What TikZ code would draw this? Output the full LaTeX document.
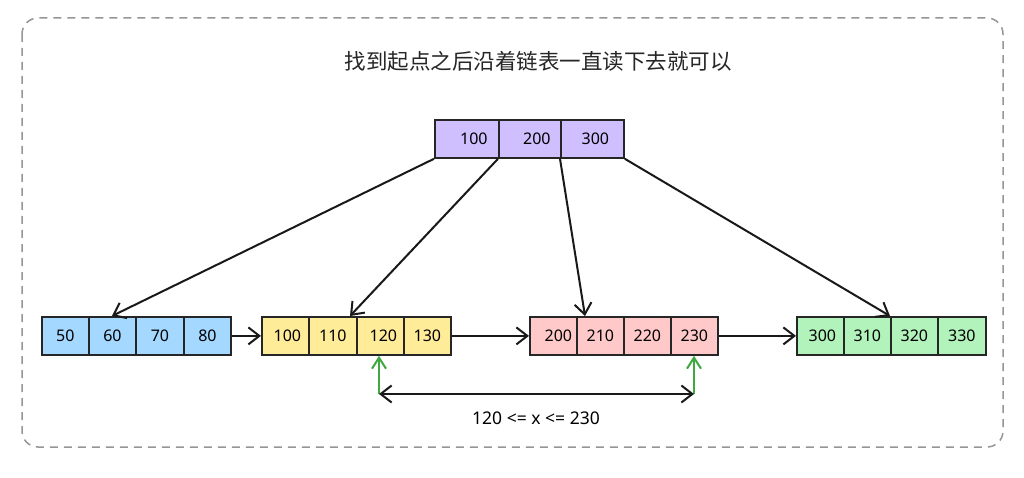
\documentclass[tikz,border=0pt]{standalone}
\usepackage{fontspec}
\setmainfont{Noto Sans}
\newfontfamily\cjk{Noto Sans CJK SC}
\usetikzlibrary{arrows.meta}
\definecolor{lav}{RGB}{208,191,255}
\definecolor{lblue}{RGB}{165,216,255}
\definecolor{lyel}{RGB}{255,236,153}
\definecolor{lpink}{RGB}{255,201,201}
\definecolor{lgreen}{RGB}{178,242,187}
\definecolor{frame}{RGB}{150,150,150}
\definecolor{grn}{RGB}{64,168,64}
\tikzset{
  cell/.style={draw=black!85, line width=1.8pt, minimum height=38pt, inner sep=0pt, anchor=north west, font=\fontsize{16}{18}\selectfont},
  link/.style={draw=black!90, line width=2pt, -{Straight Barb[length=11pt,width=17pt,line width=2pt]}},
  glink/.style={draw=grn, line width=2pt, -{Straight Barb[length=11pt,width=14pt,line width=2pt]}},
  dlink/.style={draw=black!90, line width=2pt, {Straight Barb[length=11pt,width=17pt,line width=2pt]}-{Straight Barb[length=11pt,width=17pt,line width=2pt]}},
}
\begin{document}
\begin{tikzpicture}[x=1pt,y=-1pt]
\useasboundingbox (0,0) rectangle (1024,478);
\fill[white] (0,0) rectangle (1024,478);
\draw[frame, line width=1.5pt, dash pattern=on 8pt off 6pt, rounded corners=16pt] (22,18) rectangle (1003,447);
\node[font=\cjk\fontsize{21.5}{24}\selectfont, text=black!85] (title) at (538,61) {找到起点之后沿着链表一直读下去就可以};
% top node
\node[cell, fill=lav, minimum width=64pt] (t1) at (434,119) {\hspace*{14pt}100};
\node[cell, fill=lav, minimum width=62pt] (t2) at (498,119) {\hspace*{14pt}200};
\node[cell, fill=lav, minimum width=63pt] (t3) at (560,119) {\hspace*{6pt}300};
% blue
\node[cell, fill=lblue, minimum width=47pt] (b1) at (41,316) {50};
\node[cell, fill=lblue, minimum width=47pt] (b2) at (88,316) {60};
\node[cell, fill=lblue, minimum width=48pt] (b3) at (135,316) {70};
\node[cell, fill=lblue, minimum width=47pt] (b4) at (183,316) {80};
% yellow
\node[cell, fill=lyel, minimum width=47pt] (y1) at (261,316) {\hspace*{4pt}100};
\node[cell, fill=lyel, minimum width=48pt] (y2) at (308,316) {110};
\node[cell, fill=lyel, minimum width=47pt] (y3) at (356,316) {\hspace*{6pt}120};
\node[cell, fill=lyel, minimum width=47pt] (y4) at (403,316) {130};
% pink
\node[cell, fill=lpink, minimum width=47pt] (p1) at (529,316) {\hspace*{10pt}200};
\node[cell, fill=lpink, minimum width=47pt] (p2) at (576,316) {210};
\node[cell, fill=lpink, minimum width=47pt] (p3) at (623,316) {220};
\node[cell, fill=lpink, minimum width=47pt] (p4) at (670,316) {230};
% green
\node[cell, fill=lgreen, minimum width=47pt] (g1) at (796,316) {\hspace*{4pt}300};
\node[cell, fill=lgreen, minimum width=47pt] (g2) at (843,316) {310};
\node[cell, fill=lgreen, minimum width=47pt] (g3) at (890,316) {320};
\node[cell, fill=lgreen, minimum width=48pt] (g4) at (937,316) {330};
% tree link targets
\coordinate (eb) at (112,316);
\coordinate (ey) at (350,316);
\coordinate (ep) at (585,316);
% tree links
\draw[link] (t1.south west) -- (eb);
\draw[link] (t2.south west) -- (ey);
\draw[link] (t3.south west) -- (ep);
\draw[link] (t3.south east) -- (g3.north west);
% leaf links
\draw[link] (b4.east) -- (y1.west);
\draw[link] (y4.east) -- (p1.west);
\draw[link] (p4.east) -- (g1.west);
% range
\coordinate (ra) at (379,394);
\coordinate (rb) at (694,394);
\draw[glink] (ra) -- (ra |- y3.south);
\draw[glink] (rb) -- (rb |- p4.south);
\draw[dlink] (ra) -- (rb);
\node[font=\fontsize{17.5}{20}\selectfont] (lbl) at (536,418) {120 <= x <= 230};
\end{tikzpicture}
\end{document}
